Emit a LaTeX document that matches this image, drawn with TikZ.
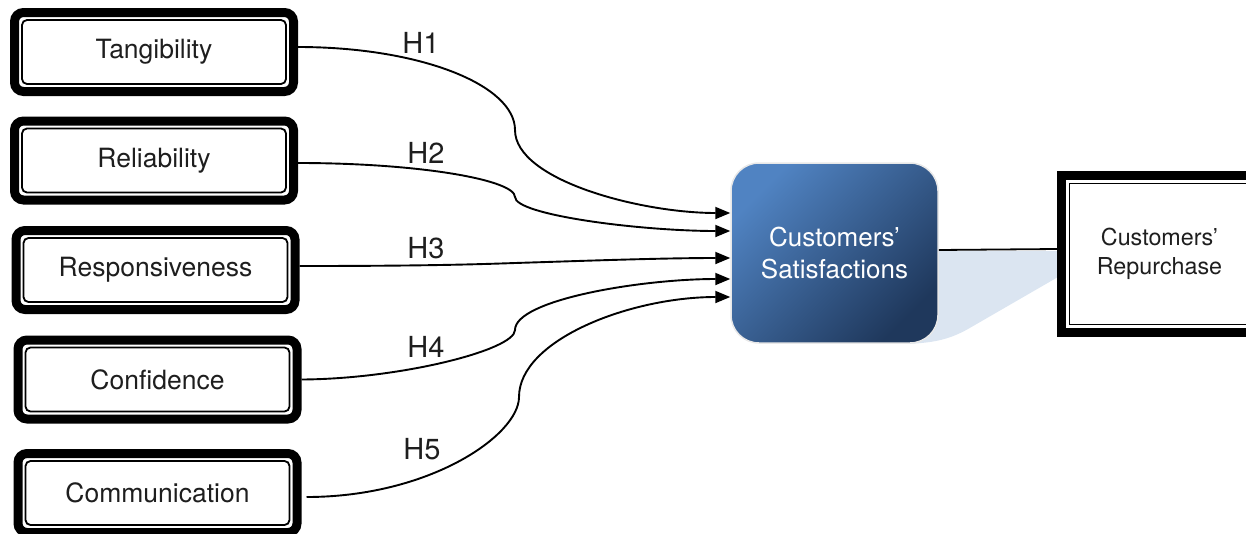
\documentclass[tikz,border=0pt]{standalone}
\usepackage{fontspec}
\setmainfont{TeX Gyre Heros}
\usetikzlibrary{arrows.meta}

\definecolor{satlight}{RGB}{80,131,194}
\definecolor{satdark}{RGB}{31,56,92}
\definecolor{glowblue}{RGB}{219,229,241}
\definecolor{inkgray}{RGB}{30,30,30}

\tikzset{
  % framed factor box: heavy rounded frame with a thin inner rule
  factor/.style={draw, line width=9pt, rounded corners=9pt,
    minimum width=279pt, minimum height=79pt, inner sep=0pt,
    text=inkgray, font=\fontsize{26.5}{30}\selectfont,
    path picture={\draw[line width=1.8pt, rounded corners=5pt]
      ([xshift=7.5pt,yshift=-7.5pt]path picture bounding box.north west) rectangle
      ([xshift=-7.5pt,yshift=7.5pt]path picture bounding box.south east);}},
  outcome/.style={draw, line width=9pt, sharp corners,
    minimum width=196pt, minimum height=157pt, inner sep=0pt,
    text=inkgray, align=center, font=\fontsize{23.3}{29.5}\selectfont,
    path picture={\draw[line width=1.8pt]
      ([xshift=8pt,yshift=-8pt]path picture bounding box.north west) rectangle
      ([xshift=-8pt,yshift=8pt]path picture bounding box.south east);}},
  mediator/.style={rounded corners=28pt, draw=gray!18, line width=1.5pt,
    minimum width=207pt, minimum height=180pt, inner sep=0pt,
    top color=satlight, bottom color=satdark, shading angle=45,
    text=white, align=center, font=\fontsize{26}{32}\selectfont},
  hyp/.style={text=inkgray, font=\fontsize{29}{30}\selectfont, inner sep=0pt},
  hpath/.style={line width=1.9pt, -{Triangle[length=15pt,width=12pt]}},
}

\begin{document}
\begin{tikzpicture}[x=1pt, y=-1pt]
\useasboundingbox (0,0) rectangle (1246,533);

% pale wedge behind the link to the outcome box
\fill[glowblue] (900,251) -- (1058,251) -- (1058,277) -- (968,329)
  .. controls (950,339) and (935,343) .. (905,344) -- cycle;

% service quality dimensions
\node[factor] (tang) at (154,52)    {Tangibility};
\node[factor] (rel)  at (154,160.5) {Reliability};
\node[factor] (resp) at (155.5,270) {Responsiveness};
\node[factor] (conf) at (157.5,379.5) {Confidence};
\node[factor] (comm) at (157.5,493) {Communication};

% mediator and outcome
\node[mediator] (sat) at (834.5,253) {Customers’\\Satisfactions};
\node[outcome] (rep) at (1159.5,254) {Customers’\\Repurchase};

% hypotheses labels
\node[hyp] (h1) at (421,42.5) {H1};
\node[hyp] (h2) at (426,153) {H2};
\node[hyp] (h3) at (426,248) {H3};
\node[hyp] (h4) at (426,347) {H4};
\node[hyp] (h5) at (422,449) {H5};

% hypothesised paths
\draw[hpath] ([yshift=5pt]tang.east) .. controls (420,47) and (515,85) .. (515,130)
  .. controls (515,180) and (640,213) .. ([yshift=40pt]sat.west);
\draw[hpath] ([yshift=-2.5pt]rel.east) .. controls (420,163) and (515,180) .. (515,197)
  .. controls (515,215) and (640,231) .. ([yshift=22pt]sat.west);
\draw[hpath] ([yshift=4pt]resp.east) .. controls (400,266) and (460,265) .. (515,263)
  .. controls (580,261) and (660,258) .. ([yshift=-5pt]sat.west);
\draw[hpath] (conf.east) .. controls (400,379) and (515,350) .. (515,330)
  .. controls (515,300) and (640,279) .. ([yshift=-26pt]sat.west);
\draw[hpath] ([xshift=5pt,yshift=-4pt]comm.east) .. controls (430,497) and (519,435) .. (519,397)
  .. controls (519,340) and (630,297) .. ([yshift=-44pt]sat.west);

% satisfaction to repurchase
\draw[line width=1.8pt] ([yshift=3pt]sat.east) -- ([yshift=5pt]rep.west);
\end{tikzpicture}
\end{document}
